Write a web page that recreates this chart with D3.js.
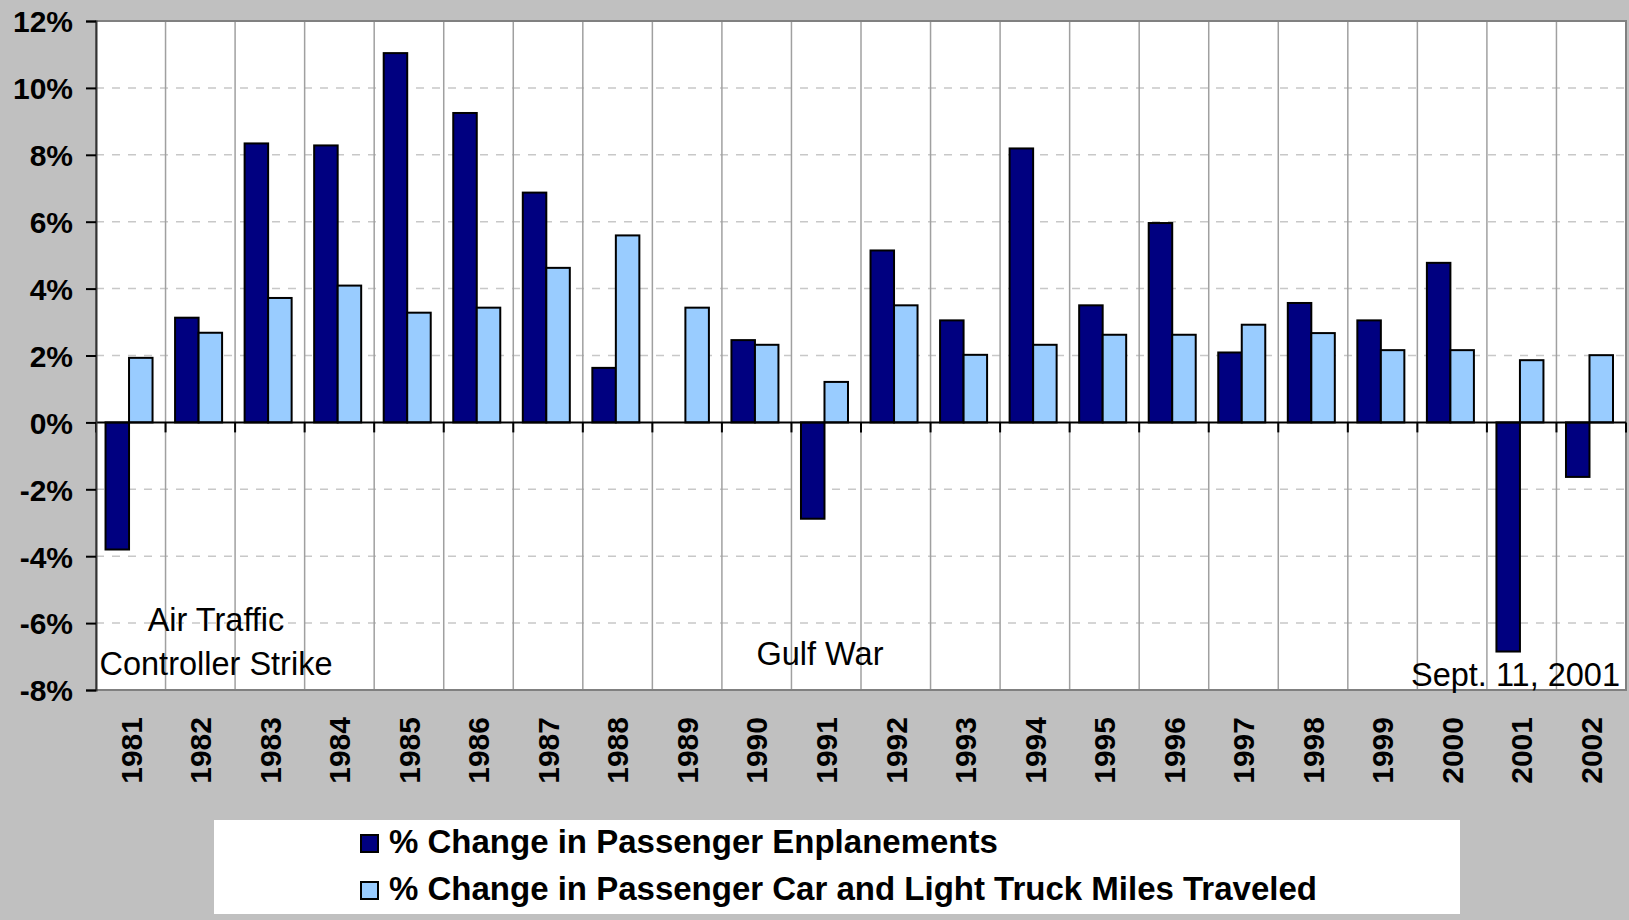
<!DOCTYPE html>
<html>
<head>
<meta charset="utf-8">
<script src="https://cdn.jsdelivr.net/npm/d3@7"></script>
<style>
  body { margin: 0; background: #c0c0c0; }
  svg { display: block; }
</style>
</head>
<body>
<script>
// data
var years = ["1981","1982","1983","1984","1985","1986","1987","1988","1989","1990","1991",
             "1992","1993","1994","1995","1996","1997","1998","1999","2000","2001","2002"];
var enplanements = [-3.80, 3.13, 8.34, 8.28, 11.04, 9.25, 6.87, 1.63, 0, 2.46, -2.88,
                    5.14, 3.05, 8.19, 3.50, 5.96, 2.09, 3.57, 3.05, 4.77, -6.85, -1.63];
var carMiles = [1.93, 2.68, 3.72, 4.09, 3.28, 3.43, 4.62, 5.59, 3.43, 2.32, 1.21,
                3.50, 2.02, 2.32, 2.62, 2.62, 2.92, 2.67, 2.16, 2.16, 1.86, 2.01];
var yTicks = [-8, -6, -4, -2, 0, 2, 4, 6, 8, 10, 12];
var seriesNames = ["% Change in Passenger Enplanements",
                   "% Change in Passenger Car and Light Truck Miles Traveled"];
var seriesColors = ["#000080", "#99ccff"];
var notes = [
  {lines: ["Air Traffic", "Controller Strike"], x: 216, y: 631, anchor: "middle"},
  {lines: ["Gulf War"], x: 820, y: 665, anchor: "middle"},
  {lines: ["Sept. 11, 2001"], x: 1620, y: 686, anchor: "end"}
];

var width = 1629, height = 920;
// plot area edges (don't call it "top", that's window.top)
var pLeft = 96, pRight = 1626, pTop = 21, pBottom = 690;

var svg = d3.select("body").append("svg")
  .attr("width", width)
  .attr("height", height);

svg.append("rect").attr("width", width).attr("height", height).attr("fill", "#c0c0c0");

var x = d3.scaleBand().domain(years).range([pLeft, pRight]).padding(0);
var bw = x.bandwidth();
var x1 = d3.scaleBand().domain([0, 1]).range([bw * 0.137, bw * 0.813]).padding(0);
var y = d3.scaleLinear().domain([-8, 12]).range([pBottom, pTop]);

// plot background
svg.append("rect")
  .attr("x", pLeft).attr("y", pTop)
  .attr("width", pRight - pLeft).attr("height", pBottom - pTop)
  .attr("fill", "#fff");

// horizontal dashed grid
svg.append("g").selectAll("line")
  .data(yTicks.filter(function(d){ return d !== 0 && d !== 12 && d !== -8; }))
  .enter().append("line")
  .attr("x1", pLeft).attr("x2", pRight)
  .attr("y1", function(d){ return y(d); })
  .attr("y2", function(d){ return y(d); })
  .attr("stroke", "#c8c8c8")
  .attr("stroke-width", 1.5)
  .attr("stroke-dasharray", "8,8");

// vertical grid at category edges
var edges = years.map(function(d){ return x(d); }).concat([pRight]);
svg.append("g").selectAll("line")
  .data(edges.slice(1, -1))
  .enter().append("line")
  .attr("x1", function(d){ return d; }).attr("x2", function(d){ return d; })
  .attr("y1", pTop).attr("y2", pBottom)
  .attr("stroke", "#a0a0a0")
  .attr("stroke-width", 1.5);

// plot border
svg.append("rect")
  .attr("x", pLeft).attr("y", pTop)
  .attr("width", pRight - pLeft).attr("height", pBottom - pTop)
  .attr("fill", "none")
  .attr("stroke", "#808080")
  .attr("stroke-width", 2);

// bars
var series = [enplanements, carMiles];
series.forEach(function(vals, si){
  svg.append("g").selectAll("rect")
    .data(vals.map(function(v, i){ return {year: years[i], v: v}; })
              .filter(function(d){ return d.v !== 0; }))
    .enter().append("rect")
    .attr("x", function(d){ return x(d.year) + x1(si); })
    .attr("width", x1.bandwidth())
    .attr("y", function(d){ return y(Math.max(0, d.v)); })
    .attr("height", function(d){ return Math.abs(y(d.v) - y(0)); })
    .attr("fill", seriesColors[si])
    .attr("stroke", "#000")
    .attr("stroke-width", 2);
});

// zero line with category ticks
svg.append("line")
  .attr("x1", pLeft).attr("x2", pRight)
  .attr("y1", y(0)).attr("y2", y(0))
  .attr("stroke", "#000").attr("stroke-width", 2);
svg.append("g").selectAll("line")
  .data(edges)
  .enter().append("line")
  .attr("x1", function(d){ return d; }).attr("x2", function(d){ return d; })
  .attr("y1", y(0)).attr("y2", y(0) + 10)
  .attr("stroke", "#000").attr("stroke-width", 2);

// y axis
var yAxis = svg.append("g")
  .attr("transform", "translate(" + pLeft + ",0)")
  .call(d3.axisLeft(y).tickValues(yTicks).tickFormat(function(d){ return d + "%"; })
        .tickSize(10).tickPadding(13));
yAxis.select(".domain").attr("stroke", "#333").attr("stroke-width", 2);
yAxis.selectAll(".tick line").attr("stroke", "#000").attr("stroke-width", 2);
yAxis.selectAll("text")
  .attr("dy", "0.36em")
  .style("font-family", "Liberation Sans, Arial, sans-serif")
  .style("font-weight", "bold")
  .style("font-size", "30px")
  .attr("fill", "#000");

// x axis labels
var xAxis = svg.append("g")
  .attr("transform", "translate(0," + pBottom + ")")
  .call(d3.axisBottom(x).tickSize(0));
xAxis.select(".domain").remove();
xAxis.selectAll("text")
  .attr("transform", "rotate(-90)")
  .attr("x", -27).attr("y", 0)
  .attr("dy", "0.36em")
  .attr("text-anchor", "end")
  .style("font-family", "Liberation Sans, Arial, sans-serif")
  .style("font-weight", "bold")
  .style("font-size", "30px")
  .attr("fill", "#000");

// annotations
notes.forEach(function(n){
  n.lines.forEach(function(t, i){
    svg.append("text")
      .attr("x", n.x).attr("y", n.y + i * 43.5)
      .attr("text-anchor", n.anchor)
      .style("font-family", "Liberation Sans, Arial, sans-serif")
      .style("font-size", "32.5px")
      .text(t);
  });
});

// legend
var lg = svg.append("g");
lg.append("rect")
  .attr("x", 214).attr("y", 820)
  .attr("width", 1246).attr("height", 94)
  .attr("fill", "#fff");
seriesNames.forEach(function(name, i){
  lg.append("rect")
    .attr("x", 361).attr("y", 835 + i * 47)
    .attr("width", 17).attr("height", 17)
    .attr("fill", seriesColors[i])
    .attr("stroke", "#000").attr("stroke-width", 2);
  lg.append("text")
    .attr("x", 389).attr("y", 853 + i * 47)
    .style("font-family", "Liberation Sans, Arial, sans-serif")
    .style("font-weight", "bold")
    .style("font-size", "33px")
    .text(name);
});
</script>
</body>
</html>
